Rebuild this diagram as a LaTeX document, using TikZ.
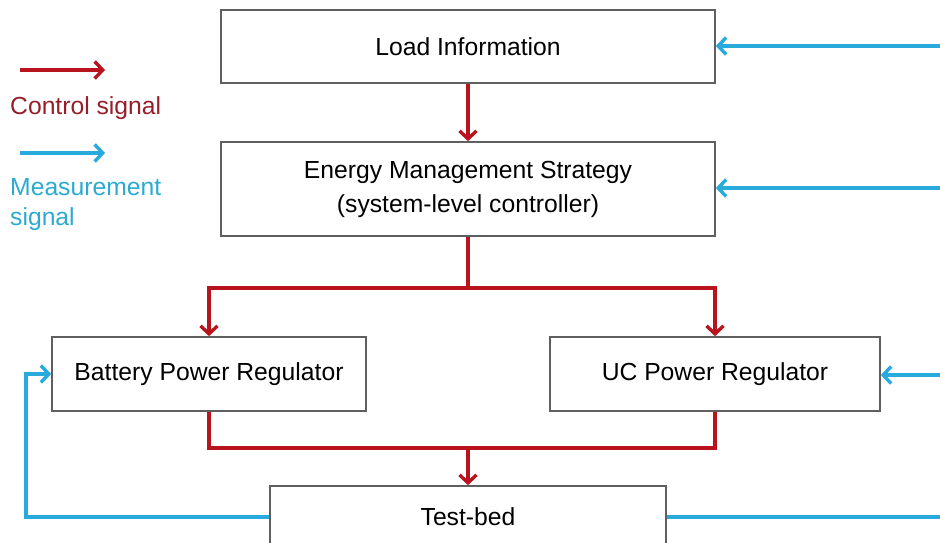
\documentclass[tikz,border=0pt]{standalone}
\usepackage{fontspec}
\setmainfont{Liberation Sans}
\usetikzlibrary{arrows.meta,calc}
\definecolor{ctrlred}{RGB}{185,20,30}
\definecolor{ctrltext}{RGB}{150,30,40}
\definecolor{measblue}{RGB}{40,170,220}
\definecolor{meastext}{RGB}{45,170,210}
\definecolor{boxgray}{RGB}{95,95,95}

\begin{document}
\begin{tikzpicture}[x=1pt,y=-1pt,line join=miter]
\tikzstyle{block}=[draw=boxgray,line width=1.6pt,fill=white,align=center,
  inner sep=0pt,font=\fontsize{24.7}{34}\selectfont]
\tikzstyle{ctrl}=[draw=ctrlred,line width=3.6pt,-{Straight Barb[length=8pt,width=17pt,line width=3.4pt]}]
\tikzstyle{meas}=[draw=measblue,line width=3.6pt,-{Straight Barb[length=8pt,width=17pt,line width=3.4pt]}]
\tikzstyle{legend}=[anchor=west,align=left,inner sep=0pt,font=\fontsize{24.7}{30}\selectfont]
\useasboundingbox (0,0) rectangle (940,543);
% blocks
\node[block,minimum width=494pt,minimum height=73pt] (load) at (468,46.5) {Load Information};
\node[block,minimum width=494pt,minimum height=94pt] (ems) at (468,189)
  {Energy Management Strategy\\(system-level controller)};
\node[block,minimum width=314pt,minimum height=74pt] (bat) at (209,374) {Battery Power Regulator};
\node[block,minimum width=330pt,minimum height=74pt] (uc) at (715,374) {UC Power Regulator};
\node[block,minimum width=396pt,minimum height=62pt] (test) at (468,517) {Test-bed};
% junctions and free ends
\coordinate (split) at (468,288);
\coordinate (merge) at (468,448);
\coordinate (loadin) at (940,46);
\coordinate (emsin) at (940,188);
\coordinate (ucin) at (940,375);
\coordinate (testout) at (940,517);
\coordinate (batback) at (26,517);
% control signals
\draw[ctrl] (load) -- (ems);
\draw[ctrlred,line width=3.6pt] (ems.south) -- (split);
\draw[ctrl] (split) -| (bat.north);
\draw[ctrl] (split) -| (uc.north);
\draw[ctrlred,line width=3.6pt] (bat.south) |- (merge) -| (uc.south);
\draw[ctrl] (merge) -- (test.north);
% measurement signals
\draw[meas] (loadin) -- (loadin -| load.east);
\draw[meas] (emsin) -- (emsin -| ems.east);
\draw[meas] (ucin) -- (ucin -| uc.east);
\draw[measblue,line width=3.6pt] (test.east) -- (testout);
\draw[meas] (test.west) -- (batback) |- (bat.west);
% legend
\coordinate (c1) at (20,70);
\coordinate (c2) at (105,70);
\coordinate (m1) at (20,153);
\coordinate (m2) at (105,153);
\draw[ctrl] (c1) -- (c2);
\draw[meas] (m1) -- (m2);
\node[legend,text=ctrltext] (ctrllabel) at (10,108) {Control signal};
\node[legend,text=meastext] (measlabel) at (10,205) {Measurement\\signal};
\end{tikzpicture}
\end{document}
